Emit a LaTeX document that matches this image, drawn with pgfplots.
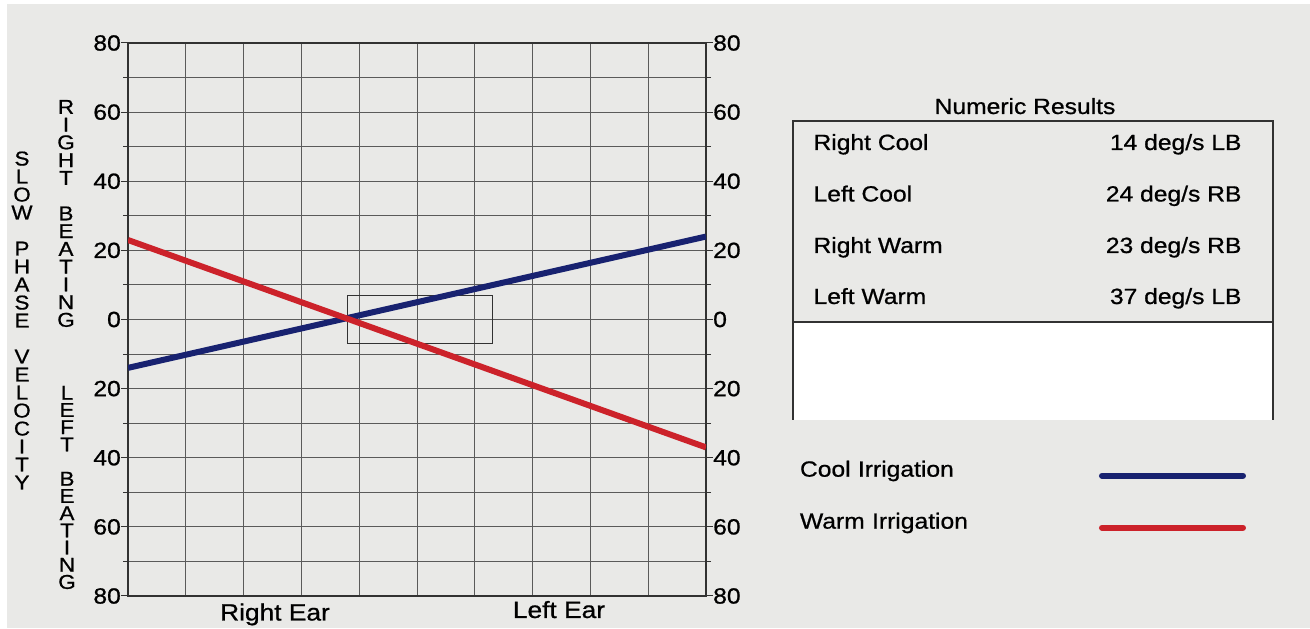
\documentclass[border=0pt]{standalone}
\usepackage{fontspec}
\setmainfont{Liberation Sans}[FakeStretch=1.12, FakeBold=0.8]
\usepackage{pgfplots}
\pgfplotsset{compat=1.18}
\definecolor{paper}{RGB}{233,233,231}
\definecolor{coolblue}{RGB}{24,34,112}
\definecolor{warmred}{RGB}{204,34,42}
\definecolor{gridc}{RGB}{90,90,90}
\definecolor{framec}{RGB}{50,50,50}
\newcommand{\fs}[1]{\fontsize{#1}{#1}\selectfont}

\begin{document}
\begin{tikzpicture}[x=1pt,y=1pt]
\fill[white] (0,0) rectangle (1310,628);
\fill[paper] (7,0) rectangle (1310,624);
% numeric results box
\fill[white] (794,208) rectangle (1272,306);
\draw[framec, line width=1.2pt] (793,208) -- (793,507) -- (1273,507) -- (1273,208);
\draw[framec, line width=1.2pt] (793,306) -- (1273,306);
\node[font=\fs{22}, anchor=base] at (1025,514) {Numeric Results};
\node[font=\fs{22}, anchor=base west] at (810,478) {Right Cool};
\node[font=\fs{22}, anchor=base west] at (810,426.5) {Left Cool};
\node[font=\fs{22}, anchor=base west] at (810,375) {Right Warm};
\node[font=\fs{22}, anchor=base west] at (810,324) {Left Warm};
\node[font=\fs{22}, anchor=base east] at (1245,478) {14 deg/s LB};
\node[font=\fs{22}, anchor=base east] at (1245,426.5) {24 deg/s RB};
\node[font=\fs{22}, anchor=base east] at (1245,375) {23 deg/s RB};
\node[font=\fs{22}, anchor=base east] at (1245,324) {37 deg/s LB};
% vertical stacked labels
\node[font=\fontsize{20}{18}\selectfont, align=center, inner sep=0pt] at (22,307.5)
  {S\\L\\O\\W\\[18pt]P\\H\\A\\S\\E\\[18pt]V\\E\\L\\O\\C\\I\\T\\Y};
\node[font=\fontsize{20}{17.75}\selectfont, align=center, inner sep=0pt] at (66,414.5)
  {R\\I\\G\\H\\T\\[17.75pt]B\\E\\A\\T\\I\\N\\G};
\node[font=\fontsize{20}{17.2}\selectfont, align=center, inner sep=0pt] at (67,140.5)
  {L\\E\\F\\T\\[17.2pt]B\\E\\A\\T\\I\\N\\G};
% ear labels
\node[font=\fs{23.5}, anchor=base] at (275,7.5) {Right Ear};
\node[font=\fs{23.5}, anchor=base] at (559,10) {Left Ear};

\begin{axis}[
  at={(128pt,32pt)}, anchor=south west,
  scale only axis, width=578pt, height=553pt,
  xmin=0, xmax=10, ymin=-80, ymax=80,
  xtick={0,1,...,10}, xticklabels={},
  ytick={-80,-60,...,80}, minor ytick={-70,-50,...,70},
  grid=both,
  major grid style={gridc, line width=1pt},
  minor grid style={gridc, line width=1pt},
  axis line style={framec, line width=1.3pt},
  tick align=outside,
  major tick length=7pt, minor tick length=5pt,
  tick style={framec, line width=1pt},
  xtick style={draw=none},
  yticklabel={\pgfmathparse{abs(\tick)}\pgfmathprintnumber{\pgfmathresult}},
  /pgf/number format/assume math mode=true,
  yticklabel style={font=\fs{22}, inner sep=0pt},
  legend plot pos=right,
  legend cell align=left,
  legend image code/.code={\draw[#1, line cap=round] (3pt,-4pt) -- (144pt,-4pt);},
  legend style={at={(axis description cs:1.1626,0.2429)}, anchor=north west,
    draw=none, fill=none, inner sep=0pt, outer sep=0pt,
    row sep=32pt, column sep=0pt, font=\fs{22},
    nodes={inner sep=0pt, text height=15pt, text depth=5pt, text width=299pt, align=left}},
]
\addplot[framec, line width=1pt, forget plot] coordinates {(3.8,-7) (6.3,-7) (6.3,7) (3.8,7) (3.8,-7)};
\addplot[coolblue, line width=6pt] coordinates {(0,-14) (10,24)};
\addlegendentry{Cool Irrigation}
\addplot[warmred, line width=6pt] coordinates {(0,23) (10,-37)};
\addlegendentry{Warm Irrigation}
\end{axis}

\begin{axis}[
  at={(128pt,32pt)}, anchor=south west,
  scale only axis, width=578pt, height=553pt,
  xmin=0, xmax=10, ymin=-80, ymax=80,
  hide x axis,
  axis y line*=right,
  y axis line style={draw=none},
  ytick={-80,-60,...,80},
  ytick style={draw=none},
  yticklabel={\pgfmathparse{abs(\tick)}\pgfmathprintnumber{\pgfmathresult}},
  /pgf/number format/assume math mode=true,
  yticklabel style={font=\fs{22}, inner sep=0pt, xshift=7pt},
]
\addplot[draw=none, forget plot] coordinates {(0,0)};
\end{axis}
\end{tikzpicture}
\end{document}
